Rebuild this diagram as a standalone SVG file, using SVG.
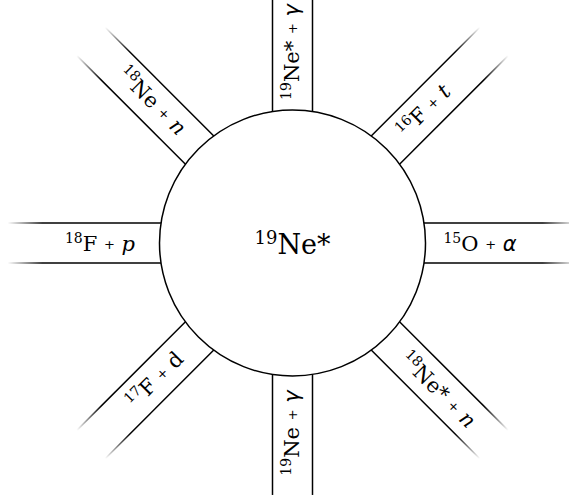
<svg xmlns="http://www.w3.org/2000/svg" width="569" height="500" viewBox="0 0 569 500">
<defs>
<linearGradient id="fade" gradientUnits="userSpaceOnUse" x1="250" y1="0" x2="285" y2="0">
<stop offset="0" stop-color="#000" stop-opacity="1"/>
<stop offset="1" stop-color="#000" stop-opacity="0"/>
</linearGradient>
<style>
.ch line{stroke:url(#fade);stroke-width:1.5;fill:none}
.lbl{font-family:"DejaVu Serif",serif;font-size:21px;fill:#000}
.main{font-size:27px}
.msup{font-size:18px}
.sup{font-size:14px}
.pl{font-family:"DejaVu Sans",sans-serif;font-size:13px}
.it{font-style:italic}
.gk{font-family:"DejaVu Sans",sans-serif;font-style:italic}
</style>
</defs>
<rect width="569" height="500" fill="#fff"/>
<g id="connectors">
<g class="ch" transform="translate(292.5,243) rotate(0)"><line x1="131" y1="-20" x2="285" y2="-20"/><line x1="131" y1="20" x2="285" y2="20"/></g>
<g class="ch" transform="translate(292.5,243) rotate(45)"><line x1="131" y1="-20" x2="285" y2="-20"/><line x1="131" y1="20" x2="285" y2="20"/></g>
<g class="ch" transform="translate(292.5,243) rotate(90)"><line x1="131" y1="-20" x2="252" y2="-20"/><line x1="131" y1="20" x2="252" y2="20"/></g>
<g class="ch" transform="translate(292.5,243) rotate(135)"><line x1="131" y1="-20" x2="285" y2="-20"/><line x1="131" y1="20" x2="285" y2="20"/></g>
<g class="ch" transform="translate(292.5,243) rotate(180)"><line x1="131" y1="-20" x2="285" y2="-20"/><line x1="131" y1="20" x2="285" y2="20"/></g>
<g class="ch" transform="translate(292.5,243) rotate(225)"><line x1="131" y1="-20" x2="285" y2="-20"/><line x1="131" y1="20" x2="285" y2="20"/></g>
<g class="ch" transform="translate(292.5,243) rotate(270)"><line x1="131" y1="-20" x2="285" y2="-20"/><line x1="131" y1="20" x2="285" y2="20"/></g>
<g class="ch" transform="translate(292.5,243) rotate(315)"><line x1="131" y1="-20" x2="285" y2="-20"/><line x1="131" y1="20" x2="285" y2="20"/></g>
</g>
<g id="ne19">
<circle cx="292.5" cy="243" r="133" fill="#fff" stroke="#000" stroke-width="1.5"/>
<text class="lbl main" x="292.5" y="254" text-anchor="middle"><tspan class="msup" dy="-10">19</tspan><tspan dy="10">Ne*</tspan></text>
</g>
<g id="f18p" transform="translate(100,244)"><text class="lbl" x="0" y="7" text-anchor="middle"><tspan class="sup" dy="-8">18</tspan><tspan dy="8">F </tspan><tspan class="pl" dy="-2">+</tspan><tspan dy="2"> </tspan><tspan class="it">p</tspan></text></g>
<g id="o15a" transform="translate(480,244)"><text class="lbl" x="0" y="7" text-anchor="middle"><tspan class="sup" dy="-8">15</tspan><tspan dy="8">O </tspan><tspan class="pl" dy="-2">+</tspan><tspan dy="2"> </tspan><tspan class="gk">α</tspan></text></g>
<g id="ne19sg" transform="translate(292,52) rotate(-90)"><text class="lbl" x="0" y="7" text-anchor="middle"><tspan class="sup" dy="-8">19</tspan><tspan dy="8">Ne* </tspan><tspan class="pl" dy="-2">+</tspan><tspan dy="2"> </tspan><tspan class="gk">γ</tspan></text></g>
<g id="ne19g" transform="translate(292,433) rotate(-90)"><text class="lbl" x="0" y="7" text-anchor="middle"><tspan class="sup" dy="-8">19</tspan><tspan dy="8">Ne </tspan><tspan class="pl" dy="-2">+</tspan><tspan dy="2"> </tspan><tspan class="gk">γ</tspan></text></g>
<g id="ne18n" transform="translate(152,101) rotate(45)"><text class="lbl" x="0" y="7" text-anchor="middle"><tspan class="sup" dy="-8">18</tspan><tspan dy="8">Ne </tspan><tspan class="pl" dy="-2">+</tspan><tspan dy="2"> </tspan><tspan class="it">n</tspan></text></g>
<g id="f16t" transform="translate(424,111) rotate(-45)"><text class="lbl" x="0" y="7" text-anchor="middle"><tspan class="sup" dy="-8">16</tspan><tspan dy="8">F </tspan><tspan class="pl" dy="-2">+</tspan><tspan dy="2"> </tspan><tspan class="it">t</tspan></text></g>
<g id="ne18sn" transform="translate(438,390) rotate(45)"><text class="lbl" x="0" y="7" text-anchor="middle"><tspan class="sup" dy="-8">18</tspan><tspan dy="8">Ne* </tspan><tspan class="pl" dy="-2">+</tspan><tspan dy="2"> </tspan><tspan class="it">n</tspan></text></g>
<g id="f17d" transform="translate(155,380) rotate(-45)"><text class="lbl" x="0" y="7" text-anchor="middle"><tspan class="sup" dy="-8">17</tspan><tspan dy="8">F </tspan><tspan class="pl" dy="-2">+</tspan><tspan dy="2"> d</tspan></text></g>
</svg>
